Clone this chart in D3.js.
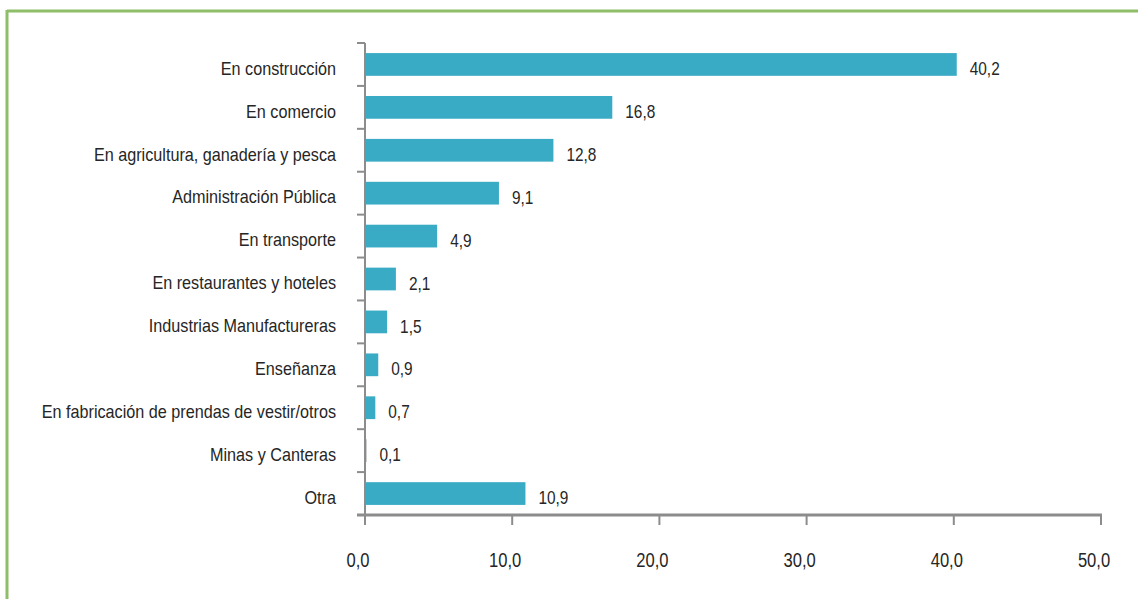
<!DOCTYPE html>
<html>
<head>
<meta charset="utf-8">
<script src="https://cdn.jsdelivr.net/npm/d3@7"></script>
<style>
  body { margin: 0; background: #fff; }
  svg text { font-family: "Liberation Sans", Arial, sans-serif; fill: #262626; }
</style>
</head>
<body>
<div id="chart"></div>
<script>
const categories = [
	'En construcción',
	'En comercio',
	'En agricultura, ganadería y pesca',
	'Administración Pública',
	'En transporte',
	'En restaurantes y hoteles',
	'Industrias Manufactureras',
	'Enseñanza',
	'En fabricación de prendas de vestir/otros',
	'Minas y Canteras',
	'Otra'
];
const values = [40.2, 16.8, 12.8, 9.1, 4.9, 2.1, 1.5, 0.9, 0.7, 0.1, 10.9];
const xTicks = [0, 10, 20, 30, 40, 50];

const w = 1138;
const h = 599;
const narrow = 0.89;
const fmt = v => d3.format('.1f')(v).replace('.', ',');

const svg = d3.select('#chart').append('svg')
	.attr('width', w)
	.attr('height', h);

// green frame (top and left)
svg.append('line')
	.attr('x1', 7).attr('x2', w)
	.attr('y1', 11).attr('y2', 11)
	.attr('stroke', '#8fbe69').attr('stroke-width', 3);
svg.append('line')
	.attr('x1', 7).attr('x2', 7)
	.attr('y1', 10).attr('y2', h)
	.attr('stroke', '#8fbe69').attr('stroke-width', 3);

const x = d3.scaleLinear()
	.domain([0, 50])
	.range([365, 1101]);

const y = d3.scaleBand()
	.domain(categories)
	.range([43, 515])
	.paddingInner(0.47)
	.paddingOuter(0.235);

// bars
svg.append('g').selectAll('rect')
	.data(values)
	.join('rect')
	.attr('x', x(0))
	.attr('y', (d, i) => y(categories[i]))
	.attr('width', d => Math.max(x(d) - x(0), 1.5))
	.attr('height', y.bandwidth())
	.attr('fill', (d, i) => d < 0.5 ? '#9a9a9a' : '#3aabc5');

// value labels
svg.append('g').selectAll('text')
	.data(values)
	.join('text')
	.attr('transform', (d, i) => `translate(${x(d) + 13},${y(categories[i]) + y.bandwidth() / 2 + 6}) scale(0.88,1)`)
	.attr('dominant-baseline', 'middle')
	.style('font-size', '17.5px')
	.text(d => fmt(d));

// category axis
const step = y.step();
const yAxis = svg.append('g');
yAxis.append('line')
	.attr('x1', 365).attr('x2', 365)
	.attr('y1', 43).attr('y2', 515)
	.attr('stroke', '#8c8c8c').attr('stroke-width', 2);
yAxis.selectAll('.tick')
	.data(d3.range(categories.length + 1))
	.join('line')
	.attr('x1', 357).attr('x2', 365)
	.attr('y1', i => 43 + i * step)
	.attr('y2', i => 43 + i * step)
	.attr('stroke', '#8c8c8c').attr('stroke-width', 2);
yAxis.selectAll('text')
	.data(categories)
	.join('text')
	.attr('transform', d => `translate(336,${y(d) + y.bandwidth() / 2 + 5.5}) scale(${narrow},1)`)
	.attr('dominant-baseline', 'middle')
	.attr('text-anchor', 'end')
	.style('font-size', '18.2px')
	.text(d => d);

// value axis
const xAxis = svg.append('g');
xAxis.append('line')
	.attr('x1', 357).attr('x2', 1102)
	.attr('y1', 515).attr('y2', 515)
	.attr('stroke', '#8c8c8c').attr('stroke-width', 3);
xAxis.selectAll('.tick')
	.data(xTicks)
	.join('line')
	.attr('x1', d => x(d)).attr('x2', d => x(d))
	.attr('y1', 515).attr('y2', 525)
	.attr('stroke', '#8c8c8c').attr('stroke-width', 2);
xAxis.selectAll('text')
	.data(xTicks)
	.join('text')
	.attr('transform', d => `translate(${x(d) - 7},562) scale(0.85,1)`)
	.attr('dominant-baseline', 'middle')
	.attr('text-anchor', 'middle')
	.style('font-size', '19.5px')
	.text(d => fmt(d));
</script>
</body>
</html>
